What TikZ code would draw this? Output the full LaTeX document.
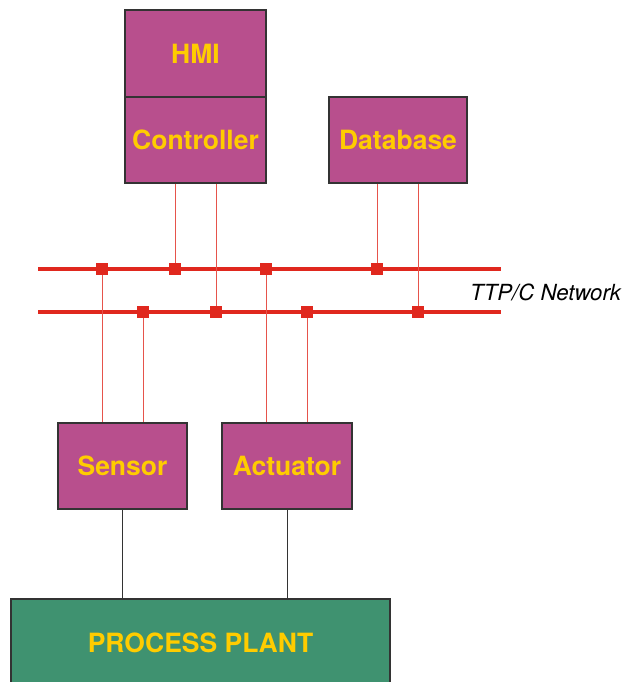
\documentclass[tikz,border=0pt]{standalone}
\usepackage{fontspec}
\setmainfont{TeX Gyre Heros}
\definecolor{boxmag}{HTML}{B84F8D}
\definecolor{boxtxt}{HTML}{FFCC00}
\definecolor{plantgreen}{HTML}{3F9270}
\definecolor{busred}{HTML}{E0281E}
\tikzset{
  unit/.style={draw=black!80, line width=1.2pt, fill=boxmag, text=boxtxt,
    font=\fontsize{26.5}{31}\selectfont\bfseries, inner sep=0pt},
  bus/.style={busred, line width=4pt},
  link/.style={busred!80, line width=0.9pt},
  tap/.style={fill=busred, draw=none, minimum size=12pt, inner sep=0pt}
}

\begin{document}
\begin{tikzpicture}[x=1pt, y=-1pt]
\useasboundingbox (0,0) rectangle (624,682);
% Units
\node[unit, minimum width=141pt, minimum height=87pt] (hmi) at (195.5,53.5) {HMI};
\node[unit, minimum width=141pt, minimum height=86pt] (ctrl) at (195.5,140) {Controller};
\node[unit, minimum width=138pt, minimum height=86pt] (db) at (398,140) {Database};
\node[unit, minimum width=129pt, minimum height=86pt] (sensor) at (122.5,466) {Sensor};
\node[unit, minimum width=130pt, minimum height=86pt] (act) at (287,466) {Actuator};
\node[unit, fill=plantgreen, minimum width=379pt, minimum height=88pt] (plant) at (200.5,643) {PROCESS PLANT};

% Network
\coordinate (busAw) at (38,269);
\coordinate (busAe) at (501,269);
\coordinate (busBw) at (38,312);
\coordinate (busBe) at (501,312);
\draw[bus] (busAw) -- (busAe);
\draw[bus] (busBw) -- (busBe);
\node[font=\fontsize{22.2}{27}\selectfont\itshape, anchor=west, inner sep=0pt] (net) at (470,292) {TTP/C Network};

% Taps
\coordinate (a1) at (102,269);
\coordinate (a2) at (175,269);
\coordinate (a3) at (266,269);
\coordinate (a4) at (377,269);
\coordinate (b1) at (143,312);
\coordinate (b2) at (216,312);
\coordinate (b3) at (307,312);
\coordinate (b4) at (418,312);
\draw[link] (ctrl.south -| a2) -- (a2);
\draw[link] (ctrl.south -| b2) -- (b2);
\draw[link] (db.south -| a4) -- (a4);
\draw[link] (db.south -| b4) -- (b4);
\draw[link] (a1) -- (sensor.north -| a1);
\draw[link] (b1) -- (sensor.north -| b1);
\draw[link] (a3) -- (act.north -| a3);
\draw[link] (b3) -- (act.north -| b3);
\foreach \t in {a1,a2,a3,a4,b1,b2,b3,b4}
  \node[tap] (sq\t) at (\t) {};

% Plant links
\draw[black!80, line width=0.9pt] (sensor.south) -- (sensor.south |- plant.north);
\draw[black!80, line width=0.9pt] (act.south) -- (act.south |- plant.north);
\end{tikzpicture}
\end{document}
